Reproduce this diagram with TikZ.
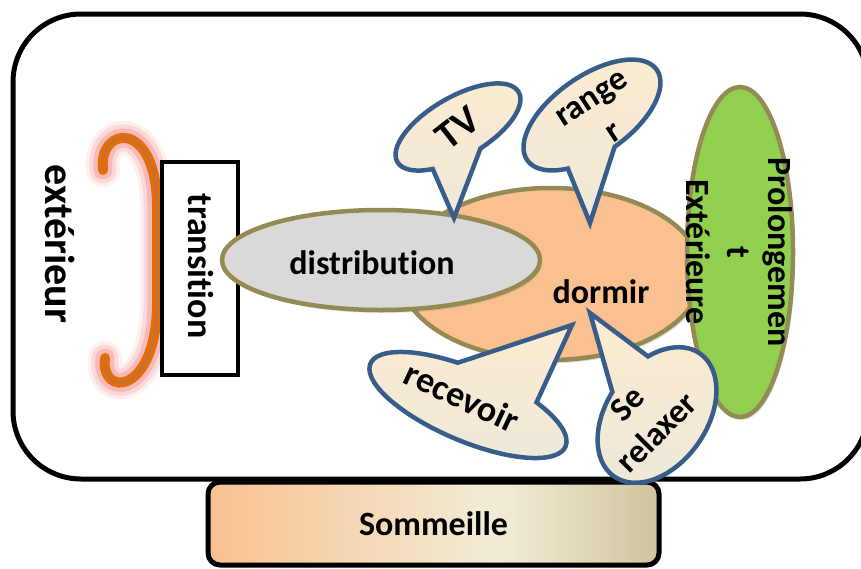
\documentclass[tikz,border=0pt]{standalone}
\usepackage{fontspec}
\setmainfont{Carlito}[Ligatures=NoCommon]
\usetikzlibrary{positioning,shapes.geometric,shapes.callouts,shadows}
\definecolor{oliveEdge}{HTML}{948A54}
\definecolor{greyFill}{HTML}{D9D9D9}
\definecolor{peachFill}{HTML}{FAC090}
\definecolor{grassGreen}{HTML}{92D050}
\definecolor{calloutBlue}{HTML}{385D8A}
\definecolor{creamTop}{HTML}{FCEBD0}
\definecolor{creamBot}{HTML}{EEE9DA}
\definecolor{bracketOrange}{HTML}{E46C0A}
\definecolor{glowRed}{HTML}{F08080}
\definecolor{somOrange}{HTML}{F8C08F}
\definecolor{somCream}{HTML}{F2EDD7}
\definecolor{somTan}{HTML}{D1C39D}
\pgfdeclarehorizontalshading{sommShade}{100bp}{color(0bp)=(somOrange); color(25bp)=(somOrange); color(57bp)=(somCream); color(75bp)=(somTan); color(100bp)=(somTan)}

\tikzset{
  label text/.style={font=\fontsize{#1}{41}\selectfont\bfseries, align=center, inner sep=0pt},
  label text/.default=34,
  blob/.style={ellipse, draw=oliveEdge, line width=4.5pt, inner sep=0pt,
    drop shadow={shadow xshift=2pt, shadow yshift=-3pt, opacity=.25}},
  bubble/.style={ellipse callout, draw=calloutBlue, line width=4.5pt, inner sep=0pt,
    top color=creamTop, bottom color=creamBot},
}

\begin{document}
\begin{tikzpicture}[x=1pt,y=-1pt]
\useasboundingbox (0,0) rectangle (861,568);

% outer frame and the base box
\node[draw, line width=5pt, rounded corners=68pt, minimum width=855, minimum height=465,
      inner sep=0pt] (frame) at (440.5,246.5) {};
\node[draw, line width=5pt, rounded corners=12pt, shading=sommShade, minimum width=451,
      minimum height=83, label text] (somm) at (433.5,523.5) {Sommeille};

% glowing bracket
\foreach \w/\o in {34/.12,27/.2,19/.35}
  \draw[glowRed, line width=\w pt, opacity=\o, line cap=round]
    (103,170) .. controls (98,126) and (156,118) .. (157,205) -- (157,305)
    .. controls (156,395) and (100,398) .. (105,358);
\draw[bracketOrange, line width=10pt, line cap=round]
    (103,170) .. controls (98,126) and (156,118) .. (157,205) -- (157,305)
    .. controls (156,395) and (100,398) .. (105,358);
\draw[gray, line width=0.8pt]
    (103,170) .. controls (98,126) and (156,118) .. (157,205) -- (157,305)
    .. controls (156,395) and (100,398) .. (105,358);

\node[label text=42, rotate=-90] (exterieur) at (60,244) {extérieur};
\node[draw, line width=4pt, fill=white, minimum width=76, minimum height=213,
      inner sep=0pt] (transbox) at (200,268.5) {};
\node[label text=36, rotate=-90] (transition) at (201,266) {transition};

% ellipses
\node[blob, fill=peachFill, minimum width=302, minimum height=172] (dormirb) at (551,274) {};
\node[blob, fill=greyFill, minimum width=318, minimum height=100] (distributionb) at (381,260) {};
\node[label text] (distribution) at (372,263) {distribution};
\node[blob, fill=grassGreen, minimum width=106, minimum height=330] (prolongb) at (740,252) {};
\node[label text, rotate=-90] (prolong) at (739,252) {Prolongemen\\t\\Extérieure};
\node[label text] (dormir) at (601,292) {dormir};

% speech bubbles
\coordinate (tvtip) at (454,218);
\coordinate (rangertip) at (590,223);
\coordinate (recevoirtip) at (572,325);
\coordinate (relaxertip) at (590,313);

\node[bubble, rotate=30, minimum width=140, minimum height=60, callout pointer arc=45,
      callout absolute pointer={(tvtip)}] (tvb) at (458,127) {};
\node[label text=40, rotate=38] (tv) at (458,128) {TV};

\node[bubble, rotate=35, minimum width=158, minimum height=78, callout pointer arc=40,
      callout absolute pointer={(rangertip)}] (rangerb) at (592,115) {};
\node[label text, rotate=33] (ranger) at (603,116) {range\\r};

\node[bubble, rotate=-23, minimum width=212, minimum height=72, callout pointer arc=50,
      callout absolute pointer={(recevoirtip)}] (recevoirb) at (468,405) {};
\node[label text=36, rotate=-25] (recevoir) at (462,397) {recevoir};

\node[bubble, rotate=55, minimum width=150, minimum height=100, callout pointer arc=40,
      callout absolute pointer={(relaxertip)}] (relaxerb) at (657,415) {};
\node[label text, rotate=45] (relaxer) at (642,418) {Se\\relaxer};
\end{tikzpicture}
\end{document}
